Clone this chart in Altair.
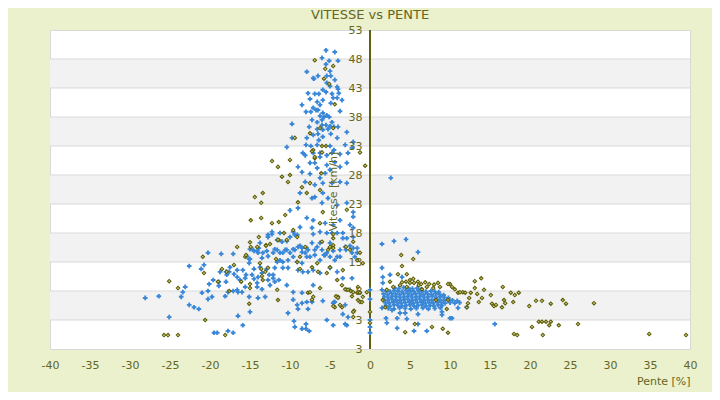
import altair as alt
import pandas as pd

title_text = "VITESSE vs PENTE"
x_title = "Pente [%]"
y_title = "Vitesse [km/h]"

x_ticks = [-40, -35, -30, -25, -20, -15, -10, -5, 0, 5, 10, 15, 20, 25, 30, 35, 40]
y_ticks = [-2, 3, 8, 13, 18, 23, 28, 33, 38, 43, 48, 53]
band_lo = [3, 13, 23, 33, 43]
band_hi = [8, 18, 28, 38, 48]

blue_peak = [
    (-5.5, 49.5), (-4.4, 49.2), (-6.0, 48.2), (-5.1, 47.7), (-4.0, 47.7), (-5.5, 47.1), (-5.0, 45.9),
    (-7.9, 45.8), (-6.5, 45.1), (-7.1, 44.7), (-7.0, 44.6), (-5.4, 45.1), (-4.9, 45.1), (-4.4, 44.4),
    (-5.4, 43.9), (-5.0, 43.3), (-4.1, 43.2), (-4.0, 42.8), (-5.9, 42.7), (-5.5, 42.3), (-6.4, 42.0),
    (-7.75, 42.1), (-6.9, 42.0), (-4.75, 42.0), (-3.9, 42.1), (-4.6, 41.3), (-4.1, 41.3), (-3.5, 40.9),
    (-7.5, 41.1), (-6.6, 40.6), (-5.9, 40.9), (-4.9, 40.4), (-8.5, 40.1), (-6.25, 40.1), (-7.1, 39.6),
    (-6.5, 39.2), (-8.0, 38.9), (-7.4, 38.9), (-6.75, 39.2), (-5.9, 38.7), (-5.4, 38.3), (-3.75, 39.0),
    (-6.25, 38.2), (-5.75, 38.0), (-5.1, 38.0), (-7.25, 37.5), (-6.6, 37.1), (-6.0, 37.5), (-4.75, 37.1),
    (-9.75, 36.8), (-7.6, 36.3), (-6.0, 36.6), (-5.5, 36.6), (-5.0, 36.4), (-4.5, 36.3), (-4.0, 36.3),
    (-2.9, 35.4), (-6.6, 35.9), (-5.9, 35.8), (-5.25, 35.9), (-7.1, 34.9), (-6.5, 35.1), (-5.9, 34.6),
    (-4.9, 35.1), (-4.1, 34.4), (-9.75, 34.4), (-7.9, 34.4), (-6.4, 34.0), (-2.1, 33.7), (-3.1, 33.2),
    (-8.0, 33.2), (-7.4, 33.0), (-6.6, 33.2), (-5.0, 33.0), (-4.5, 32.3), (-10.4, 32.8), (-8.4, 31.8),
    (-7.1, 31.8), (-6.25, 31.1), (-3.75, 31.6), (-2.75, 31.8), (-2.25, 32.7),
    (-8.1, 31.4), (-7.5, 30.1), (-6.9, 30.1), (-6.6, 29.2), (-9.0, 29.4), (-8.5, 28.5), (-7.5, 28.2),
    (-6.25, 27.5), (-5.6, 28.3), (-5.0, 28.9), (-5.4, 29.7), (-4.4, 30.2), (-3.75, 29.4), (-2.9, 30.1),
    (-5.4, 31.4), (-6.25, 31.8), (-4.75, 31.8), (-8.1, 26.8), (-6.9, 26.3), (-5.9, 26.6), (-4.75, 26.6),
    (-3.75, 26.8), (-2.9, 26.6), (-8.75, 24.9), (-7.25, 24.0), (-6.9, 24.2), (-5.9, 24.9), (-5.25, 24.0),
    (-6.0, 23.2), (-4.1, 22.8), (-2.9, 23.2), (-2.1, 21.6), (-2.1, 20.8), (-9.0, 22.3), (-10.0, 21.9),
    (-7.9, 20.6), (-7.1, 20.2), (-5.6, 19.7), (-4.6, 19.4), (-3.75, 20.2), (-2.5, 19.4), (-2.1, 18.9),
    (-7.25, 18.9), (-8.75, 19.0), (2.6, 27.5),
]

blue_left = [
    (-11.25, 18.0), (-12.75, 17.7), (-12.25, 18.2), (-10.0, 17.3), (-9.4, 17.7), (-6.25, 18.2), (-5.4, 18.0),
    (-4.1, 18.0), (-3.4, 18.0), (-2.1, 17.3), (-13.75, 16.3), (-14.6, 15.1), (-11.9, 15.2), (-10.6, 15.1),
    (-9.6, 15.2), (-7.9, 15.4), (-6.25, 16.3), (-6.9, 15.1), (-3.75, 15.1), (-3.1, 15.6), (-1.6, 15.4),
    (-15.4, 14.0), (-14.0, 14.6), (-12.75, 14.0), (-10.0, 14.6), (-8.5, 14.7), (-5.6, 14.2), (-4.1, 13.9),
    (-1.9, 13.9),
    (-28.1, 6.8), (-26.4, 7.1), (-25.1, 3.5), (-22.6, 12.3), (-20.25, 14.6), (-18.6, 14.4), (-17.1, 14.4),
    (-20.75, 12.5), (-21.1, 11.8), (-23.4, 7.8), (-23.6, 7.0), (-23.1, 8.7), (-21.0, 7.7), (-20.25, 8.0),
    (-20.25, 6.6), (-19.75, 7.0), (-22.6, 5.6), (-22.0, 5.2), (-21.4, 4.9), (-20.1, 9.2), (-19.6, 9.9),
    (-18.9, 8.9), (-18.0, 9.6), (-17.6, 11.3), (-17.9, 10.8), (-17.0, 10.9), (-18.1, 7.1), (-17.1, 8.0),
    (-16.6, 8.2), (-16.0, 7.8), (-16.5, 3.7), (-15.0, 4.4), (-15.9, 2.1), (-19.5, 0.8), (-19.1, 0.8),
    (-17.75, 1.1), (-17.1, 0.8), (-16.25, 9.9), (-15.6, 10.2), (-15.6, 8.7), (-15.5, 10.8), (-15.1, 12.8),
    (-15.1, 13.5), (-14.5, 11.8), (-14.75, 10.8), (-14.5, 10.1), (-14.0, 10.4), (-14.1, 9.4), (-14.1, 8.7),
    (-13.5, 8.3), (-14.0, 6.8), (-13.1, 7.0), (-13.5, 11.1), (-12.9, 11.8), (-12.6, 10.8), (-12.1, 10.8),
    (-12.75, 9.9), (-12.1, 10.2), (-13.75, 12.1), (-13.5, 13.7), (-14.5, 14.9), (-14.1, 14.9), (-13.4, 14.6),
    (-12.9, 14.9), (-12.1, 14.6), (-11.6, 15.1), (-11.25, 14.6), (-10.9, 14.6), (-10.4, 15.1), (-9.4, 15.1),
    (-9.0, 15.6), (-8.5, 15.4), (-8.1, 14.6), (-7.75, 15.1), (-7.25, 16.3), (-6.6, 15.6), (-6.0, 15.1),
    (-5.4, 14.6), (-11.6, 13.0), (-11.25, 13.3), (-10.9, 13.0), (-10.25, 13.3), (-9.6, 13.9), (-9.1, 13.0),
    (-8.5, 12.8), (-7.9, 13.9), (-7.5, 13.9), (-6.9, 14.2), (-6.25, 13.3), (-5.75, 14.2), (-5.0, 13.9),
    (-4.4, 13.3), (-3.75, 13.9), (-3.0, 15.1), (-2.25, 14.6), (-11.9, 12.0), (-10.9, 12.0), (-10.25, 12.0),
    (-9.0, 11.6), (-8.4, 11.3), (-7.75, 11.3), (-7.1, 11.6), (-6.25, 11.1), (-5.0, 12.0), (-4.1, 11.3),
    (-3.4, 10.2), (-2.25, 10.2), (-12.5, 9.0), (-11.9, 9.6), (-11.4, 9.9), (-10.4, 9.0), (-9.6, 7.8),
    (-8.5, 7.7), (-7.1, 9.0), (-5.9, 6.3), (-7.9, 6.1), (-7.25, 6.1), (-9.1, 5.6), (-8.5, 5.9), (-9.6, 6.5),
    (-9.0, 4.9), (-7.75, 4.9), (-10.25, 4.2), (-9.5, 2.8), (-9.4, 1.8), (-8.5, 1.5), (-8.0, 1.5), (-8.0, 2.3),
    (-7.6, 1.1), (-5.4, 3.0), (-4.6, 2.1), (-3.1, 2.3), (-2.75, 3.5), (-4.4, 6.1), (-4.6, 5.9), (-2.5, 8.2),
    (-3.1, 5.6), (-7.1, 17.8), (-4.75, 18.0), (-3.4, 17.1), (-2.9, 17.1), (-2.5, 15.8), (-2.1, 15.4),
    (-1.6, 14.6), (-5.0, 16.3), (-4.75, 15.6), (-4.6, 14.9), (-9.1, 17.7), (-12.25, 17.8), (-12.75, 17.3),
    (-15.0, 15.2), (-13.9, 15.4), (-11.6, 16.8), (-11.0, 16.5), (-10.4, 16.6), (-9.6, 18.2), (-8.75, 15.8),
    (-15.0, 13.5), (-15.9, 11.6), (-16.6, 10.4), (-17.75, 7.8), (-16.5, 7.8), (-15.1, 7.0), (-17.5, 12.1),
    (-18.0, 11.3), (-18.75, 11.3), (-16.6, 11.6), (-18.9, 9.6), (-4.5, 6.1), (-3.4, 4.0), (-2.9, 2.1),
]

blue_right = [
    (0.0, 8.2), (0.0, 6.6), (0.0, 3.0), (0.0, 1.8), (0.0, 0.8),
    (1.5, 16.1), (3.0, 16.6), (4.5, 16.9), (6.0, 14.7), (1.5, 12.0), (1.6, 10.4), (4.0, 10.4), (2.5, 10.8),
    (1.6, 9.4), (1.5, 8.2), (2.0, 3.3), (2.1, 2.5), (3.4, 3.3), (4.6, 3.2), (3.4, 1.6), (5.5, 1.1),
    (6.0, 2.3), (7.1, 1.1), (9.0, 3.9), (9.0, 4.4), (10.25, 3.3), (10.0, 3.3), (11.0, 5.1), (12.1, 5.2),
    (15.6, 2.3), (3.75, 4.2), (4.4, 4.2), (6.0, 4.0), (1.5, 5.1), (2.75, 4.7),
]

blue_blob = [
    (3.1, 8.5), (3.6, 8.4), (4.2, 8.6), (4.8, 8.5), (5.3, 8.4), (5.9, 8.5), (6.4, 8.3),
    (2.0, 8.0), (2.5, 7.9), (3.0, 8.1), (3.5, 8.0), (4.0, 7.9), (4.5, 8.1), (5.0, 8.0), (5.5, 7.9),
    (6.0, 8.1), (6.5, 8.0), (7.0, 7.9), (7.6, 8.0), (8.1, 7.9), (8.6, 7.8),
    (1.7, 7.5), (2.2, 7.4), (2.7, 7.6), (3.2, 7.5), (3.7, 7.4), (4.2, 7.5), (4.7, 7.6), (5.2, 7.4),
    (5.7, 7.5), (6.2, 7.6), (6.7, 7.4), (7.2, 7.5), (7.7, 7.4), (8.2, 7.5), (8.7, 7.4), (9.2, 7.3),
    (1.8, 7.0), (2.3, 6.9), (2.8, 7.1), (3.3, 7.0), (3.8, 6.9), (4.3, 7.0), (4.8, 7.1), (5.3, 6.9),
    (5.8, 7.0), (6.3, 7.1), (6.8, 6.9), (7.3, 7.0), (7.8, 7.1), (8.3, 6.9), (8.8, 7.0), (9.3, 6.9), (9.8, 6.8),
    (1.7, 6.5), (2.2, 6.4), (2.7, 6.6), (3.2, 6.5), (3.7, 6.4), (4.2, 6.5), (4.7, 6.6), (5.2, 6.4),
    (5.7, 6.5), (6.2, 6.6), (6.7, 6.4), (7.2, 6.5), (7.7, 6.4), (8.2, 6.6), (8.7, 6.5), (9.2, 6.4),
    (9.7, 6.5), (10.3, 6.4), (10.9, 6.3),
    (1.9, 6.0), (2.4, 5.9), (2.9, 6.1), (3.4, 6.0), (3.9, 5.9), (4.4, 6.0), (4.9, 6.1), (5.4, 5.9),
    (5.9, 6.0), (6.4, 6.1), (6.9, 5.9), (7.4, 6.0), (7.9, 5.9), (8.4, 6.1), (8.9, 6.0), (9.4, 5.9),
    (10.0, 6.0), (10.6, 5.9), (11.2, 6.0),
    (2.0, 5.5), (2.5, 5.4), (3.0, 5.6), (3.5, 5.5), (4.0, 5.4), (4.5, 5.5), (5.0, 5.6), (5.5, 5.4),
    (6.0, 5.5), (6.5, 5.6), (7.0, 5.4), (7.5, 5.5), (8.0, 5.4), (8.5, 5.6), (9.0, 5.5),
    (2.3, 5.0), (3.0, 4.9), (3.7, 5.1), (4.4, 5.0), (5.1, 4.9), (5.8, 5.0), (6.6, 5.1), (7.3, 4.9),
    (8.1, 5.0), (8.8, 5.1),
]

olive_peak = [
    (-6.9, 47.8), (-5.6, 46.3), (-4.6, 46.8), (-5.75, 44.6), (-5.1, 43.7), (-4.4, 40.2), (-6.25, 36.1),
    (-4.6, 36.1), (-7.5, 35.2), (-9.4, 34.4), (-7.1, 32.3), (-6.0, 33.0), (-5.5, 33.0), (-6.9, 30.9),
    (-1.25, 31.9), (-7.25, 32.1), (-12.25, 30.4), (-11.5, 29.4), (-10.0, 30.6), (-11.0, 27.7), (-10.0, 28.0),
    (-10.25, 26.8), (-8.5, 25.9), (-7.5, 26.6), (-13.4, 24.9), (-14.4, 24.2), (-13.6, 23.2), (-9.0, 23.3),
    (-7.9, 24.9), (-10.6, 21.1), (-14.9, 20.2), (-13.6, 20.6), (-12.25, 19.7), (-11.4, 19.9), (-10.75, 18.0),
    (-9.6, 18.5), (-6.25, 19.7), (-5.9, 21.6), (-6.9, 31.1), (-6.1, 28.3), (-6.25, 25.4), (-2.9, 22.0),
    (-6.0, 31.9), (-0.6, 29.6),
]

olive_left = [
    (-15.0, 16.4), (-14.1, 15.6), (-13.0, 15.9), (-11.4, 16.8), (-9.1, 17.3), (-8.1, 15.6), (-4.6, 15.9),
    (-5.25, 15.1), (-2.5, 15.1), (-25.75, 0.4), (-25.25, 0.4), (-24.0, 0.4), (-18.1, 0.4), (-25.1, 9.7),
    (-24.0, 8.5), (-20.6, 3.0), (-20.9, 13.9), (-20.75, 11.1), (-19.0, 9.6), (-18.5, 11.8), (-17.9, 11.3),
    (-17.6, 8.0), (-17.0, 12.5), (-16.6, 15.6), (-15.6, 13.9), (-15.5, 14.2), (-16.1, 9.6), (-15.0, 8.5),
    (-14.9, 15.6), (-15.1, 5.8), (-13.9, 17.3), (-13.75, 12.8), (-13.6, 11.8), (-13.0, 15.8), (-12.75, 12.0),
    (-12.5, 16.1), (-11.75, 13.5), (-11.6, 8.2), (-11.5, 16.8), (-10.4, 16.8), (-13.5, 10.6), (-13.4, 9.9),
    (-15.0, 9.2), (-13.1, 11.3), (-11.5, 6.45), (-7.75, 7.7), (-7.5, 7.8), (-7.25, 6.5), (-7.1, 7.0),
    (-6.25, 8.5), (-6.5, 11.3), (-7.25, 12.1), (-5.4, 11.1), (-5.0, 12.1), (-4.6, 15.4), (-4.1, 9.9),
    (-3.5, 9.0), (-3.4, 11.6), (-4.0, 7.0), (-4.4, 5.2), (-3.5, 5.2), (-2.9, 8.2), (-2.25, 7.1), (-2.0, 4.6),
    (-1.6, 7.7), (-1.5, 8.7), (-1.25, 6.1), (-0.9, 7.0), (-0.4, 7.8), (-2.1, 3.5), (-9.1, 13.0), (-8.75, 13.9),
    (-8.75, 11.8), (-6.6, 12.8), (-6.0, 16.5), (-5.0, 15.6), (-3.0, 15.6), (-1.25, 14.6), (-1.6, 13.3),
    (-0.9, 12.8), (-4.6, 17.1), (-4.6, 17.8), (-2.1, 16.5), (-3.1, 8.3), (-2.75, 8.2), (-2.4, 8.0),
    (-2.1, 7.8), (-1.25, 7.7), (-1.5, 6.45), (-1.0, 6.1), (-4.25, 7.1), (-4.0, 6.8), (-3.75, 5.6),
    (-4.6, 5.4), (-2.1, 4.4), (0.0, 4.4), (0.0, 2.5),
]

olive_right = [
    (3.9, 14.2), (5.4, 13.5), (4.0, 12.3), (4.6, 10.9), (3.5, 10.9), (2.5, 9.6), (5.4, 10.1), (6.0, 9.6),
    (8.5, 9.4), (10.0, 9.2), (13.1, 9.7), (13.9, 10.2), (16.6, 8.7), (17.6, 7.7), (18.1, 7.3), (18.6, 7.7),
    (15.1, 7.3), (14.0, 6.8), (13.6, 6.1), (12.4, 6.8), (11.6, 7.8), (11.0, 7.7), (13.1, 8.5), (14.25, 8.2),
    (16.75, 6.45), (16.5, 5.2), (16.9, 5.9), (17.9, 6.1), (15.25, 5.8), (15.5, 5.4), (15.75, 5.6),
    (19.9, 5.4), (20.75, 6.3), (21.5, 6.3), (22.6, 5.8), (24.1, 6.45), (24.5, 5.8), (28.0, 5.9),
    (4.4, 0.9), (5.6, 2.3), (7.75, 1.8), (9.1, 1.5), (9.75, 0.8), (18.0, 0.6), (18.4, 0.4), (20.25, 1.8),
    (21.1, 2.7), (21.5, 2.7), (22.0, 2.7), (22.4, 2.1), (22.6, 2.7), (23.6, 2.1), (26.0, 2.3), (21.6, 0.4),
    (34.9, 0.6), (39.5, 0.4), (12.1, 5.2), (12.25, 5.9), (9.6, 4.9), (8.25, 6.45), (9.75, 6.45),
    (10.6, 8.3), (11.25, 7.8), (11.9, 7.7), (12.6, 7.7), (13.4, 7.5), (10.25, 8.7), (9.75, 9.2),
    (8.75, 8.7), (7.9, 8.5), (7.1, 8.7), (6.5, 8.3), (6.1, 9.0), (5.0, 9.4), (4.6, 8.7), (3.75, 9.0),
    (2.9, 8.7), (2.1, 8.2), (1.9, 5.2), (1.6, 6.45), (4.5, 9.6), (5.0, 9.9), (5.5, 9.4), (6.4, 9.2),
    (6.9, 9.5), (7.4, 9.2), (4.0, 9.5), (8.0, 9.1),
]

OLIVE_TEXT = "#66661c"
BG = "#ebf0cd"

blue_pts = blue_peak + blue_left + blue_right + blue_blob
olive_pts = olive_peak + olive_left + olive_right
blue_df = pd.DataFrame(blue_pts, columns=["x", "y"])
olive_df = pd.DataFrame(olive_pts, columns=["x", "y"])
bands_df = pd.DataFrame({"lo": band_lo, "hi": band_hi})
grid_df = pd.DataFrame({"v": y_ticks[1:-1]})

xs = alt.Scale(domain=[-40, 40], nice=False, zero=False)
ys = alt.Scale(domain=[-2, 53], nice=False, zero=False)

x_axis = alt.Axis(
    values=x_ticks, labelExpr="(datum.value < 0 ? '-' : '') + abs(datum.value)",
    domain=False, ticks=False, grid=False, labelFlush=False, labelOverlap=False,
    labelColor=OLIVE_TEXT, labelFontSize=11, labelPadding=10,
    title=x_title, titleX=640, titleY=32, titleAlign="right", titleBaseline="middle",
    titleColor=OLIVE_TEXT, titleFontSize=11, titleFontWeight="normal", zindex=1,
)
y_axis = alt.Axis(
    values=y_ticks, labelExpr="datum.value < 0 ? '3' : datum.label",
    domain=False, ticks=False, grid=False, labelFlush=False, labelOverlap=False,
    offset=-320, labelColor=OLIVE_TEXT, labelFontSize=11, labelPadding=8,
    title=y_title, titleX=-32, titleY=161, titleAngle=270, titleAlign="center", titleBaseline="bottom",
    titleColor=OLIVE_TEXT, titleFontSize=11, titleFontWeight="normal", zindex=1,
)

X = alt.X("x:Q", scale=xs, axis=x_axis)
Y = alt.Y("y:Q", scale=ys, axis=y_axis)

bands = alt.Chart(bands_df).mark_rect(color="#f2f2f2").encode(
    x=alt.datum(-40, scale=xs, axis=x_axis), x2=alt.datum(40),
    y=alt.Y("lo:Q", scale=ys, axis=y_axis), y2="hi:Q",
)
grid = alt.Chart(grid_df).mark_rule(color="#d9d9d9", strokeWidth=1).encode(
    x=alt.datum(-40, scale=xs, axis=x_axis), x2=alt.datum(40),
    y=alt.Y("v:Q", scale=ys, axis=y_axis),
)
zero_line = alt.Chart(grid_df).mark_rule(color="#5f5f10", strokeWidth=1.5).encode(
    x=alt.datum(0, scale=xs, axis=x_axis),
    y=alt.datum(-2, scale=ys, axis=y_axis), y2=alt.datum(53),
)
blue = alt.Chart(blue_df).mark_point(
    shape="cross", filled=True, color="#3a87d8", size=22, opacity=1
).encode(x=X, y=Y)
olive = alt.Chart(olive_df).mark_point(
    shape="diamond", filled=True, fill="#e4e4a8", stroke="#5e5e08", strokeWidth=1.1, size=12, opacity=1
).encode(x=X, y=Y)

chart = alt.layer(bands, grid, zero_line, blue, olive).properties(
    width=640, height=319,
    title=alt.TitleParams(title_text, fontSize=13, color=OLIVE_TEXT, fontWeight="normal",
                          anchor="middle", frame="group", baseline="alphabetic", offset=0, dy=8),
    autosize=alt.AutoSizeParams(type="none"),
    padding={"left": 42, "top": 22, "right": 22, "bottom": 43},
    background=BG,
).configure(font="DejaVu Sans").configure_view(fill="white", stroke="#d9d9d9", strokeWidth=1)

chart.save("out.html", embed_options={"renderer": "svg", "actions": False})
